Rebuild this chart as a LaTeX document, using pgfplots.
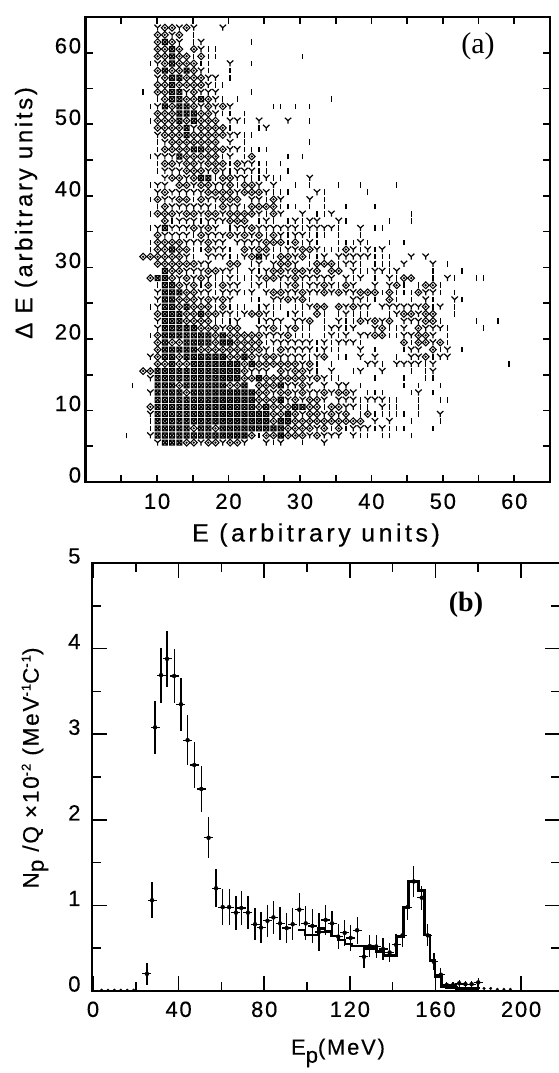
\documentclass[border=0pt]{standalone}
\usepackage{fontspec}
\usepackage{pgfplots}
\pgfplotsset{compat=1.18}
\setmainfont{Liberation Serif}
\newfontfamily\lbl[LetterSpace=8,FakeBold=0.4]{Liberation Sans}
\newfontfamily\lblw[LetterSpace=11,FakeBold=0.4]{Liberation Sans}
\newfontfamily\lblx[LetterSpace=14,FakeBold=0.4]{Liberation Sans}
\newcommand{\tickf}{\lbl\fontsize{22}{24}\selectfont}
\newcommand{\labf}{\lblw\fontsize{24}{27}\selectfont}
\newcommand{\labx}{\lblx\fontsize{25}{27}\selectfont}
\newcommand{\labg}{\lbl\fontsize{22.5}{25}\selectfont}
\pgfdeclareplotmark{gi}{\pgfsetlinewidth{1.3pt}\pgfpathmoveto{\pgfqpoint{0pt}{-2.8pt}}\pgfpathlineto{\pgfqpoint{0pt}{2.8pt}}\pgfusepathqstroke}
\pgfdeclareplotmark{gY}{\pgfsetlinewidth{1.2pt}\pgfpathmoveto{\pgfqpoint{0pt}{-3pt}}\pgfpathlineto{\pgfqpoint{0pt}{0pt}}\pgfpathlineto{\pgfqpoint{-3.2pt}{3pt}}\pgfpathmoveto{\pgfqpoint{0pt}{0pt}}\pgfpathlineto{\pgfqpoint{3.2pt}{3pt}}\pgfusepathqstroke}
\pgfdeclareplotmark{go}{\pgfsetlinewidth{1.05pt}\pgfpathmoveto{\pgfqpoint{-3.4pt}{0pt}}\pgfpathlineto{\pgfqpoint{0pt}{3.4pt}}\pgfpathlineto{\pgfqpoint{3.4pt}{0pt}}\pgfpathlineto{\pgfqpoint{0pt}{-3.4pt}}\pgfpathclose\pgfpathcircle{\pgfqpoint{0pt}{0pt}}{0.5pt}\pgfusepathqstroke}
\pgfdeclareplotmark{gx}{\pgfsetlinewidth{1.15pt}\pgfpathmoveto{\pgfqpoint{-2.5pt}{-2.5pt}}\pgfpathlineto{\pgfqpoint{2.5pt}{-2.5pt}}\pgfpathlineto{\pgfqpoint{2.5pt}{2.5pt}}\pgfpathlineto{\pgfqpoint{-2.5pt}{2.5pt}}\pgfpathclose\pgfpathmoveto{\pgfqpoint{-2.5pt}{-2.5pt}}\pgfpathlineto{\pgfqpoint{2.5pt}{2.5pt}}\pgfpathmoveto{\pgfqpoint{-2.5pt}{2.5pt}}\pgfpathlineto{\pgfqpoint{2.5pt}{-2.5pt}}\pgfusepathqstroke}
\begin{document}
\begin{tikzpicture}
\path[use as bounding box] (0pt,0pt) rectangle (558pt,1073pt);
\begin{axis}[at={(85.6pt,591pt)},anchor=south west,scale only axis,width=464.4pt,height=465pt,
 xmin=0,xmax=65,ymin=0,ymax=65,
 xtick={10,20,...,60},minor xtick={5,15,...,55},ytick={0,10,...,60},minor ytick={5,15,...,55},
 tick align=inside,major tick length=7pt,minor tick length=7pt,
 every tick/.style={black,line width=1.7pt},
 axis line style={line width=2.4pt},
 /pgf/number format/assume math mode=true,
 xticklabel style={font=\tickf,yshift=-8pt},
 yticklabel style={font=\tickf,yshift=7pt,xshift=-1pt},
 ]
\addplot[scatter,only marks,scatter src=explicit symbolic,
 scatter/classes={i={mark=gi,black},Y={mark=gY,black},o={mark=go,black},x={mark=gx,black}}]
 table[x expr={10.08+1.014*(\thisrow{E}-10)},y expr={\thisrow{D}+0.5},meta=c,row sep=\\]{
E D c\\
10 63 Y\\11 63 o\\12 63 o\\13 63 Y\\14 63 o\\15 63 Y\\19 63 Y\\
10 62 o\\11 62 o\\12 62 Y\\13 62 o\\15 62 i\\
10 61 o\\11 61 x\\12 61 o\\13 61 Y\\15 61 i\\16 61 Y\\23 61 i\\
10 60 o\\11 60 o\\12 60 x\\13 60 o\\15 60 o\\16 60 Y\\17 60 i\\18 60 i\\
10 59 o\\11 59 o\\12 59 x\\13 59 o\\14 59 o\\15 59 i\\16 59 o\\17 59 i\\18 59 i\\30 59 i\\
9 58 i\\10 58 Y\\11 58 o\\12 58 x\\13 58 o\\14 58 o\\15 58 o\\16 58 i\\17 58 i\\20 58 Y\\23 58 i\\
10 57 o\\11 57 x\\12 57 o\\13 57 o\\14 57 x\\15 57 o\\16 57 Y\\17 57 i\\20 57 i\\
10 56 Y\\11 56 o\\12 56 x\\13 56 x\\14 56 o\\15 56 o\\16 56 o\\17 56 Y\\18 56 Y\\20 56 i\\
10 55 o\\11 55 o\\12 55 x\\13 55 o\\14 55 o\\15 55 o\\16 55 o\\17 55 Y\\18 55 i\\19 55 i\\
8 54 i\\10 54 o\\11 54 o\\12 54 x\\13 54 x\\14 54 Y\\15 54 o\\16 54 Y\\17 54 Y\\18 54 Y\\23 54 i\\
10 53 i\\11 53 o\\12 53 x\\13 53 x\\14 53 o\\15 53 o\\16 53 x\\17 53 o\\18 53 Y\\19 53 i\\21 53 i\\34 53 i\\
9 52 i\\10 52 Y\\11 52 x\\12 52 o\\13 52 x\\14 52 x\\15 52 o\\16 52 Y\\17 52 o\\18 52 Y\\19 52 o\\20 52 Y\\26 52 i\\27 52 i\\29 52 i\\31 52 i\\
10 51 o\\11 51 o\\12 51 o\\13 51 x\\14 51 x\\15 51 x\\16 51 o\\17 51 o\\18 51 Y\\19 51 i\\20 51 i\\22 51 i\\
9 50 i\\10 50 o\\11 50 o\\12 50 o\\13 50 x\\14 50 o\\15 50 x\\16 50 o\\17 50 o\\18 50 o\\20 50 Y\\21 50 Y\\22 50 i\\24 50 Y\\28 50 Y\\31 50 i\\
10 49 o\\11 49 o\\12 49 o\\13 49 o\\14 49 x\\15 49 Y\\16 49 o\\17 49 o\\18 49 o\\19 49 o\\20 49 i\\24 49 i\\25 49 Y\\
10 48 Y\\11 48 o\\12 48 o\\13 48 o\\14 48 x\\15 48 o\\16 48 o\\17 48 o\\18 48 o\\19 48 o\\20 48 Y\\21 48 Y\\22 48 i\\23 48 i\\
10 47 i\\11 47 Y\\12 47 o\\13 47 o\\14 47 o\\15 47 o\\16 47 o\\17 47 o\\18 47 o\\20 47 Y\\22 47 i\\31 47 i\\
10 46 i\\11 46 o\\12 46 o\\13 46 o\\14 46 o\\15 46 x\\16 46 x\\17 46 o\\18 46 o\\19 46 o\\20 46 Y\\21 46 Y\\22 46 i\\23 46 i\\24 46 i\\25 46 i\\
9 45 i\\10 45 Y\\11 45 Y\\12 45 Y\\13 45 x\\14 45 o\\15 45 o\\16 45 o\\17 45 o\\18 45 o\\19 45 i\\20 45 Y\\22 45 i\\23 45 o\\28 45 i\\30 45 i\\
10 44 i\\11 44 o\\12 44 o\\13 44 Y\\14 44 o\\15 44 o\\16 44 Y\\17 44 o\\18 44 o\\19 44 o\\20 44 i\\21 44 o\\22 44 Y\\23 44 Y\\24 44 i\\25 44 i\\27 44 i\\
10 43 i\\11 43 Y\\12 43 Y\\13 43 Y\\14 43 o\\15 43 o\\16 43 o\\17 43 Y\\18 43 o\\19 43 Y\\20 43 i\\21 43 Y\\22 43 Y\\23 43 Y\\24 43 i\\25 43 i\\28 43 i\\
11 42 Y\\12 42 o\\13 42 o\\14 42 Y\\15 42 o\\16 42 x\\17 42 x\\18 42 i\\19 42 o\\20 42 o\\21 42 Y\\22 42 Y\\23 42 i\\24 42 i\\25 42 Y\\26 42 i\\27 42 i\\31 42 Y\\
9 41 i\\10 41 Y\\11 41 Y\\13 41 o\\14 41 o\\15 41 Y\\16 41 o\\17 41 o\\18 41 Y\\19 41 Y\\20 41 o\\21 41 i\\22 41 o\\23 41 o\\24 41 Y\\26 41 Y\\29 41 i\\31 41 i\\35 41 i\\38 41 i\\43 41 i\\
10 40 Y\\11 40 o\\12 40 Y\\13 40 Y\\14 40 Y\\15 40 Y\\16 40 Y\\17 40 o\\18 40 o\\19 40 o\\20 40 o\\21 40 Y\\22 40 o\\23 40 o\\24 40 o\\25 40 Y\\26 40 i\\27 40 i\\28 40 i\\32 40 Y\\33 40 i\\39 40 i\\
9 39 i\\10 39 o\\11 39 Y\\12 39 Y\\13 39 o\\14 39 o\\15 39 i\\16 39 o\\17 39 Y\\18 39 Y\\19 39 o\\20 39 o\\21 39 o\\23 39 Y\\24 39 Y\\25 39 i\\26 39 o\\27 39 Y\\31 39 Y\\33 39 i\\
10 38 i\\11 38 o\\12 38 Y\\13 38 Y\\14 38 Y\\15 38 Y\\16 38 Y\\17 38 Y\\18 38 i\\19 38 o\\20 38 Y\\21 38 Y\\22 38 i\\23 38 o\\24 38 o\\25 38 o\\26 38 o\\27 38 i\\28 38 i\\29 38 i\\31 38 i\\33 38 i\\36 38 i\\40 38 i\\
9 37 i\\10 37 o\\11 37 o\\12 37 o\\13 37 Y\\14 37 o\\15 37 o\\16 37 Y\\17 37 o\\18 37 o\\19 37 Y\\20 37 o\\21 37 o\\22 37 o\\23 37 o\\24 37 Y\\25 37 i\\26 37 o\\27 37 Y\\30 37 Y\\32 37 i\\33 37 i\\34 37 Y\\45 37 i\\
11 36 o\\12 36 i\\13 36 Y\\14 36 Y\\15 36 Y\\16 36 i\\17 36 Y\\18 36 Y\\19 36 Y\\20 36 o\\21 36 o\\22 36 o\\24 36 i\\25 36 Y\\26 36 i\\28 36 i\\29 36 Y\\30 36 i\\31 36 Y\\32 36 Y\\35 36 Y\\36 36 i\\42 36 i\\45 36 i\\
9 35 i\\10 35 Y\\11 35 x\\12 35 Y\\13 35 Y\\14 35 Y\\15 35 o\\16 35 Y\\17 35 o\\18 35 Y\\20 35 i\\21 35 Y\\22 35 Y\\23 35 o\\24 35 Y\\25 35 Y\\26 35 Y\\27 35 Y\\28 35 Y\\29 35 Y\\30 35 i\\31 35 Y\\32 35 Y\\33 35 Y\\34 35 Y\\35 35 i\\38 35 Y\\40 35 i\\41 35 i\\
10 34 o\\11 34 Y\\12 34 Y\\13 34 Y\\14 34 Y\\15 34 i\\16 34 o\\17 34 Y\\18 34 Y\\19 34 Y\\20 34 o\\21 34 Y\\22 34 o\\23 34 Y\\24 34 o\\25 34 i\\26 34 o\\27 34 Y\\28 34 i\\29 34 Y\\30 34 Y\\31 34 i\\32 34 i\\33 34 i\\35 34 i\\38 34 i\\
9 33 i\\10 33 o\\11 33 o\\12 33 o\\13 33 o\\14 33 Y\\15 33 Y\\16 33 Y\\17 33 o\\18 33 Y\\19 33 Y\\21 33 Y\\22 33 Y\\23 33 Y\\24 33 Y\\25 33 o\\26 33 o\\27 33 o\\28 33 i\\29 33 o\\30 33 i\\31 33 Y\\32 33 i\\35 33 i\\36 33 i\\37 33 i\\38 33 Y\\39 33 i\\42 33 i\\44 33 i\\
9 32 i\\10 32 o\\11 32 o\\12 32 x\\13 32 o\\14 32 o\\15 32 i\\16 32 i\\17 32 o\\18 32 Y\\19 32 Y\\20 32 i\\22 32 o\\23 32 Y\\24 32 o\\25 32 o\\26 32 i\\27 32 i\\28 32 Y\\29 32 Y\\30 32 o\\31 32 o\\32 32 Y\\33 32 i\\34 32 i\\35 32 i\\36 32 o\\37 32 Y\\38 32 i\\39 32 Y\\40 32 i\\41 32 Y\\
8 31 o\\9 31 o\\10 31 o\\11 31 o\\12 31 o\\13 31 o\\14 31 Y\\15 31 i\\17 31 Y\\18 31 Y\\19 31 Y\\20 31 i\\21 31 i\\22 31 Y\\23 31 o\\24 31 x\\25 31 Y\\26 31 i\\27 31 o\\28 31 o\\29 31 Y\\30 31 o\\31 31 i\\32 31 i\\33 31 Y\\35 31 Y\\36 31 Y\\37 31 Y\\38 31 Y\\39 31 Y\\40 31 i\\41 31 i\\42 31 i\\45 31 Y\\47 31 Y\\
10 30 o\\11 30 o\\12 30 o\\13 30 o\\14 30 o\\15 30 o\\16 30 Y\\17 30 Y\\20 30 o\\21 30 o\\23 30 i\\24 30 Y\\26 30 Y\\27 30 o\\28 30 o\\29 30 Y\\31 30 i\\32 30 o\\33 30 o\\34 30 o\\35 30 i\\36 30 Y\\37 30 Y\\38 30 i\\40 30 i\\41 30 i\\42 30 i\\44 30 Y\\48 30 Y\\50 30 i\\
11 29 x\\12 29 o\\13 29 o\\14 29 Y\\15 29 Y\\16 29 Y\\17 29 o\\18 29 o\\19 29 Y\\20 29 Y\\21 29 i\\23 29 Y\\24 29 i\\25 29 Y\\26 29 o\\27 29 o\\28 29 Y\\29 29 o\\30 29 o\\31 29 Y\\32 29 o\\34 29 o\\35 29 o\\37 29 Y\\38 29 i\\39 29 i\\40 29 Y\\41 29 Y\\42 29 i\\43 29 Y\\48 29 i\\52 29 i\\
9 28 o\\10 28 x\\11 28 x\\12 28 o\\13 28 Y\\14 28 o\\15 28 Y\\16 28 o\\17 28 Y\\18 28 i\\19 28 i\\20 28 Y\\21 28 i\\22 28 i\\23 28 i\\24 28 Y\\25 28 o\\26 28 o\\27 28 Y\\28 28 Y\\29 28 o\\30 28 Y\\31 28 Y\\32 28 Y\\33 28 Y\\34 28 Y\\36 28 Y\\37 28 i\\38 28 Y\\40 28 i\\42 28 Y\\43 28 i\\44 28 o\\45 28 o\\48 28 i\\50 28 Y\\51 28 i\\54 28 i\\55 28 i\\
10 27 i\\11 27 x\\12 27 x\\13 27 o\\14 27 Y\\15 27 o\\16 27 i\\17 27 o\\18 27 i\\19 27 o\\20 27 Y\\21 27 Y\\23 27 i\\24 27 Y\\25 27 i\\27 27 i\\28 27 Y\\29 27 o\\30 27 i\\31 27 Y\\32 27 Y\\33 27 o\\34 27 Y\\35 27 i\\36 27 o\\37 27 Y\\40 27 Y\\42 27 Y\\43 27 o\\44 27 i\\46 27 i\\47 27 o\\48 27 o\\49 27 i\\
10 26 Y\\11 26 x\\12 26 x\\13 26 x\\14 26 o\\15 26 o\\16 26 Y\\17 26 Y\\18 26 i\\19 26 Y\\20 26 Y\\21 26 Y\\22 26 i\\23 26 Y\\25 26 Y\\26 26 o\\27 26 o\\28 26 Y\\29 26 Y\\30 26 o\\31 26 Y\\32 26 Y\\33 26 o\\34 26 Y\\35 26 o\\36 26 Y\\37 26 Y\\38 26 o\\39 26 o\\40 26 o\\41 26 i\\42 26 o\\43 26 i\\44 26 i\\45 26 i\\46 26 o\\47 26 Y\\48 26 Y\\49 26 i\\51 26 i\\
10 25 Y\\11 25 x\\12 25 x\\13 25 o\\14 25 o\\15 25 o\\16 25 Y\\17 25 o\\18 25 Y\\19 25 o\\20 25 Y\\23 25 i\\24 25 i\\26 25 Y\\27 25 Y\\28 25 o\\29 25 Y\\30 25 o\\31 25 i\\37 25 Y\\38 25 Y\\39 25 i\\40 25 i\\42 25 o\\43 25 i\\45 25 i\\47 25 Y\\48 25 i\\51 25 Y\\52 25 i\\
9 24 i\\10 24 Y\\11 24 x\\12 24 x\\13 24 o\\14 24 x\\15 24 o\\16 24 o\\17 24 o\\18 24 i\\19 24 o\\20 24 i\\21 24 i\\22 24 i\\24 24 i\\25 24 Y\\26 24 i\\27 24 i\\29 24 i\\30 24 i\\31 24 Y\\32 24 o\\33 24 o\\35 24 o\\36 24 Y\\37 24 o\\38 24 Y\\39 24 Y\\41 24 Y\\42 24 Y\\43 24 Y\\44 24 Y\\45 24 Y\\46 24 Y\\47 24 o\\48 24 i\\49 24 Y\\51 24 i\\
10 23 o\\11 23 x\\12 23 x\\13 23 x\\14 23 o\\15 23 o\\16 23 x\\17 23 o\\18 23 o\\19 23 Y\\20 23 Y\\21 23 i\\22 23 Y\\23 23 o\\24 23 o\\25 23 Y\\26 23 i\\28 23 i\\29 23 Y\\30 23 i\\32 23 o\\33 23 i\\35 23 i\\36 23 Y\\37 23 i\\38 23 i\\39 23 i\\42 23 i\\43 23 Y\\44 23 o\\45 23 o\\46 23 Y\\47 23 o\\48 23 o\\51 23 i\\
10 22 Y\\11 22 x\\12 22 x\\13 22 x\\14 22 o\\15 22 o\\16 22 o\\17 22 o\\18 22 i\\19 22 i\\20 22 i\\21 22 Y\\24 22 i\\25 22 Y\\26 22 Y\\27 22 Y\\29 22 Y\\30 22 Y\\31 22 o\\33 22 i\\35 22 Y\\36 22 i\\37 22 i\\38 22 o\\39 22 Y\\40 22 o\\41 22 Y\\42 22 o\\44 22 Y\\45 22 Y\\46 22 Y\\47 22 o\\48 22 o\\49 22 i\\54 22 i\\57 22 i\\
10 21 Y\\11 21 x\\12 21 x\\13 21 x\\14 21 x\\15 21 x\\16 21 o\\17 21 o\\18 21 o\\19 21 Y\\20 21 o\\21 21 o\\24 21 Y\\25 21 Y\\26 21 o\\27 21 i\\28 21 Y\\29 21 o\\30 21 i\\31 21 i\\33 21 i\\34 21 Y\\35 21 Y\\36 21 i\\37 21 Y\\40 21 Y\\41 21 o\\42 21 i\\43 21 i\\44 21 Y\\46 21 o\\47 21 Y\\48 21 Y\\49 21 Y\\50 21 i\\55 21 i\\
9 20 i\\10 20 o\\11 20 x\\12 20 x\\13 20 x\\14 20 x\\15 20 x\\16 20 x\\17 20 x\\18 20 o\\19 20 x\\20 20 o\\21 20 o\\22 20 o\\23 20 o\\24 20 o\\25 20 Y\\26 20 Y\\27 20 Y\\28 20 o\\29 20 i\\30 20 i\\31 20 i\\33 20 i\\34 20 Y\\35 20 i\\36 20 Y\\38 20 Y\\39 20 Y\\40 20 o\\41 20 o\\42 20 i\\43 20 i\\44 20 Y\\45 20 Y\\46 20 o\\47 20 o\\48 20 Y\\50 20 i\\
10 19 o\\11 19 x\\12 19 o\\13 19 o\\14 19 x\\15 19 x\\16 19 x\\17 19 x\\18 19 o\\19 19 x\\20 19 x\\21 19 o\\22 19 o\\23 19 o\\24 19 o\\25 19 i\\26 19 Y\\27 19 Y\\28 19 Y\\29 19 Y\\30 19 Y\\31 19 Y\\32 19 i\\33 19 Y\\34 19 i\\35 19 Y\\36 19 Y\\37 19 Y\\38 19 i\\44 19 o\\45 19 i\\46 19 o\\47 19 o\\48 19 Y\\49 19 o\\50 19 i\\
10 18 o\\11 18 x\\12 18 x\\13 18 x\\14 18 x\\15 18 x\\16 18 o\\17 18 o\\18 18 o\\19 18 o\\20 18 o\\21 18 o\\22 18 o\\23 18 o\\24 18 o\\25 18 Y\\26 18 i\\27 18 o\\28 18 Y\\29 18 Y\\30 18 Y\\31 18 Y\\32 18 i\\33 18 Y\\34 18 i\\35 18 i\\38 18 Y\\40 18 i\\44 18 i\\45 18 Y\\46 18 Y\\48 18 o\\49 18 i\\50 18 Y\\52 18 i\\
9 17 Y\\10 17 o\\11 17 x\\12 17 x\\13 17 o\\14 17 x\\15 17 x\\16 17 x\\17 17 x\\18 17 x\\19 17 x\\20 17 o\\21 17 o\\22 17 x\\23 17 o\\24 17 Y\\25 17 o\\26 17 o\\27 17 Y\\28 17 Y\\29 17 Y\\30 17 Y\\31 17 i\\32 17 Y\\33 17 o\\35 17 i\\36 17 i\\38 17 Y\\40 17 Y\\43 17 i\\45 17 Y\\46 17 Y\\47 17 o\\48 17 i\\49 17 Y\\50 17 Y\\
10 16 o\\11 16 o\\12 16 x\\13 16 o\\14 16 o\\15 16 x\\16 16 x\\17 16 x\\18 16 x\\19 16 x\\20 16 x\\21 16 x\\22 16 o\\23 16 x\\24 16 o\\25 16 o\\26 16 o\\27 16 o\\28 16 o\\29 16 o\\30 16 Y\\31 16 o\\32 16 i\\34 16 i\\39 16 Y\\40 16 Y\\41 16 i\\43 16 Y\\44 16 Y\\45 16 Y\\46 16 Y\\47 16 i\\48 16 Y\\58.5 16 i\\
8 15 o\\9 15 o\\10 15 x\\11 15 x\\12 15 x\\13 15 x\\14 15 x\\15 15 x\\16 15 x\\17 15 x\\18 15 x\\19 15 x\\20 15 x\\21 15 x\\22 15 o\\23 15 Y\\24 15 Y\\25 15 Y\\27 15 o\\28 15 Y\\29 15 o\\30 15 o\\31 15 Y\\32 15 i\\34 15 Y\\37 15 i\\38 15 Y\\41 15 Y\\45 15 i\\47 15 i\\48 15 Y\\
9 14 Y\\10 14 x\\11 14 x\\12 14 x\\13 14 x\\14 14 x\\15 14 x\\16 14 x\\17 14 x\\18 14 x\\19 14 x\\20 14 x\\21 14 x\\22 14 o\\23 14 o\\24 14 x\\25 14 o\\26 14 o\\27 14 o\\28 14 o\\29 14 o\\30 14 o\\31 14 Y\\32 14 o\\33 14 Y\\34 14 i\\35 14 i\\40 14 i\\44 14 i\\47 14 i\\48 14 i\\
6.5 13 i\\10 13 x\\11 13 x\\12 13 x\\13 13 o\\14 13 x\\15 13 x\\16 13 x\\17 13 x\\18 13 x\\19 13 x\\20 13 o\\21 13 o\\22 13 x\\24 13 o\\25 13 o\\26 13 o\\27 13 x\\28 13 Y\\29 13 Y\\30 13 o\\31 13 Y\\33 13 Y\\35 13 Y\\36 13 Y\\38 13 i\\44 13 i\\46 13 i\\49 13 i\\
9 12 Y\\10 12 x\\11 12 x\\12 12 x\\13 12 x\\14 12 o\\15 12 x\\16 12 x\\17 12 x\\18 12 x\\19 12 x\\20 12 x\\21 12 x\\22 12 x\\23 12 x\\24 12 o\\25 12 o\\26 12 Y\\27 12 o\\28 12 o\\29 12 Y\\30 12 o\\31 12 Y\\32 12 Y\\33 12 o\\34 12 Y\\35 12 o\\36 12 o\\37 12 Y\\39 12 i\\40 12 i\\41 12 i\\45 12 i\\46 12 Y\\48 12 i\\
10 11 x\\11 11 x\\12 11 x\\13 11 x\\14 11 x\\15 11 x\\16 11 x\\17 11 x\\18 11 x\\19 11 x\\20 11 x\\21 11 x\\22 11 x\\23 11 x\\24 11 o\\25 11 o\\26 11 o\\27 11 x\\28 11 Y\\29 11 o\\30 11 Y\\31 11 o\\32 11 o\\33 11 Y\\35 11 Y\\36 11 Y\\37 11 Y\\38 11 i\\39 11 Y\\40 11 Y\\41 11 Y\\42 11 i\\43 11 i\\46 11 i\\49 11 i\\50 11 i\\
9 10 o\\10 10 x\\11 10 x\\12 10 x\\13 10 x\\14 10 x\\15 10 x\\16 10 x\\17 10 x\\18 10 x\\19 10 x\\20 10 x\\21 10 x\\22 10 x\\23 10 x\\24 10 o\\25 10 x\\26 10 o\\27 10 o\\28 10 o\\29 10 x\\30 10 x\\31 10 o\\32 10 o\\33 10 i\\34 10 o\\35 10 o\\36 10 Y\\37 10 Y\\38 10 i\\39 10 i\\41 10 Y\\42 10 i\\43 10 i\\46 10 i\\
9 9 Y\\10 9 x\\11 9 x\\12 9 x\\13 9 x\\14 9 x\\15 9 x\\16 9 x\\17 9 x\\18 9 x\\19 9 x\\20 9 x\\21 9 x\\22 9 x\\23 9 x\\24 9 x\\25 9 x\\26 9 o\\27 9 o\\28 9 x\\29 9 o\\30 9 Y\\31 9 o\\32 9 o\\33 9 Y\\34 9 o\\35 9 Y\\36 9 o\\38 9 i\\39 9 o\\40 9 i\\41 9 i\\42 9 i\\43 9 i\\44 9 i\\46 9 i\\49 9 Y\\
9 8 i\\10 8 x\\11 8 x\\12 8 x\\13 8 x\\14 8 x\\15 8 x\\16 8 x\\17 8 x\\18 8 x\\19 8 x\\20 8 x\\21 8 x\\22 8 x\\23 8 x\\24 8 x\\25 8 x\\26 8 o\\27 8 x\\28 8 x\\29 8 o\\30 8 o\\31 8 o\\32 8 o\\33 8 o\\34 8 o\\35 8 o\\36 8 o\\37 8 o\\38 8 o\\40 8 Y\\42 8 Y\\45 8 i\\49 8 i\\
9 7 i\\10 7 x\\11 7 x\\12 7 x\\13 7 x\\14 7 x\\15 7 o\\16 7 x\\17 7 x\\18 7 o\\19 7 x\\20 7 x\\21 7 x\\22 7 x\\23 7 x\\24 7 x\\25 7 x\\26 7 x\\27 7 x\\28 7 o\\29 7 o\\30 7 o\\31 7 o\\32 7 Y\\33 7 o\\34 7 i\\35 7 o\\36 7 i\\37 7 Y\\38 7 Y\\39 7 Y\\40 7 i\\41 7 Y\\42 7 i\\43 7 i\\44 7 i\\48 7 i\\
5.7 6 i\\9 6 Y\\10 6 x\\11 6 x\\12 6 x\\13 6 x\\14 6 x\\15 6 x\\16 6 x\\17 6 x\\18 6 x\\19 6 x\\20 6 x\\21 6 x\\22 6 x\\23 6 o\\24 6 i\\25 6 o\\26 6 o\\27 6 x\\28 6 o\\29 6 o\\30 6 o\\31 6 Y\\32 6 o\\33 6 Y\\34 6 Y\\35 6 Y\\37 6 Y\\38 6 i\\39 6 i\\41 6 i\\42 6 i\\45 6 i\\
10 5 Y\\11 5 x\\12 5 x\\13 5 x\\14 5 o\\15 5 o\\16 5 Y\\17 5 o\\18 5 o\\19 5 Y\\20 5 o\\21 5 o\\22 5 Y\\25 5 Y\\26 5 i\\27 5 Y\\30 5 i\\33 5 Y\\
};
\end{axis}
\begin{axis}[at={(92pt,82pt)},anchor=south west,scale only axis,width=468pt,height=428pt,
 xmin=-0.47,xmax=218.2,ymin=0,ymax=5,
 xtick={0,40,...,200},minor xtick={20,60,...,180},ytick={0,1,...,5},minor ytick={0.5,1.5,...,4.5},
 tick align=inside,major tick length=15pt,minor tick length=9pt,
 every tick/.style={black,line width=1.7pt},
 axis line style={line width=2pt},
 /pgf/number format/assume math mode=true,
 xticklabel style={font=\tickf,yshift=-7pt},
 yticklabel style={font=\tickf,yshift=7pt,xshift=-8pt},
 ]
\addplot[const plot,line width=2.7pt,black] table[row sep=\\]{
x y\\
96 .713\\99 .654\\102.2 .654\\105.3 .732\\108.4 .693\\111.5 .643\\114.6 .596\\117.7 .549\\120.9 .526\\124 .526\\127.1 .499\\132.5 .46\\135.7 .413\\141.9 .635\\145 .978\\147.3 1.278\\149.7 1.278\\152 1.172\\154.8 .654\\157.5 .355\\159.8 .168\\162.9 .05\\165.2 .04\\170 .03\\176 .03\\180 .02\\
};
\addplot[only marks,mark=none,black,error bars/.cd,y dir=both,y explicit,x dir=both,x fixed=2.1,error mark=none,error bar style={line width=1.2pt,black}]
 table[row sep=\\,y error=e]{
x y e\\
25.2 .2 .13\\27.6 1.06 .21\\29 3.08 .31\\31.8 3.69 .32\\34.6 3.88 .33\\37.9 3.68 .32\\41.1 3.35 .31\\44.2 2.93 .29\\47.3 2.64 .27\\50.6 2.36 .27\\54 1.79 .24\\57.5 1.20 .22\\60.6 .98 .21\\63.6 .98 .21\\66.8 .915 .2\\69.3 .97 .2\\72.4 .915 .19\\75.7 .78 .19\\78.5 .74 .185\\81.5 .82 .19\\84.3 .86 .19\\87.4 .79 .19\\90.5 .735 .175\\93.3 .78 .185\\96.4 .95 .195\\99.4 .79 .2\\102.5 .76 .2\\105.6 .69 .22\\108.7 .83 .17\\111.7 .79 .15\\114.6 .635 .15\\117.6 .68 .155\\120.4 .62 .155\\123.4 .71 .16\\126.6 .40 .13\\129.3 .525 .125\\132.3 .52 .13\\135.5 .49 .13\\138.6 .45 .115\\141.6 .54 .125\\144.6 .65 .14\\147 .98 .15\\149.9 1.28 .18\\153.6 1.09 .14\\156.4 .65 .13\\159.3 .34 .1\\162.5 .19 .08\\165.3 .07 .04\\168.2 .07 .04\\171.1 .09 .04\\174 .08 .04\\176.9 .08 .04\\180 .1 .05\\
};
\addplot[only marks,mark=*,mark size=1.3pt,black] table[row sep=\\]{
x y\\
4 .01\\7 .01\\10 .01\\13 .01\\16 .01\\19 .01\\182.7 .03\\185.8 .03\\188.9 .02\\192 .02\\195 .02\\
};
\end{axis}
\node[rotate=90,font=\labf] at (26pt,860pt) {Δ E (arbitrary units)};
\node[font=\labx] at (316pt,538pt) {E (arbitrary units)};
\node[font=\fontsize{30}{32}\selectfont] at (478pt,1027pt) {(a)};
\node[font=\bfseries\fontsize{28}{30}\selectfont] at (466pt,468pt) {(b)};
\node[rotate=90,font=\labg] at (35pt,305pt) {N\raisebox{-5pt}{p} /Q ×10\raisebox{8pt}{\fontsize{13}{14}\selectfont -2} (MeV\raisebox{8pt}{\fontsize{13}{14}\selectfont -1}C\raisebox{8pt}{\fontsize{13}{14}\selectfont -1})};
\node[font=\tickf] at (338pt,20pt) {E\raisebox{-8pt}{p}(MeV)};
\end{tikzpicture}
\end{document}
